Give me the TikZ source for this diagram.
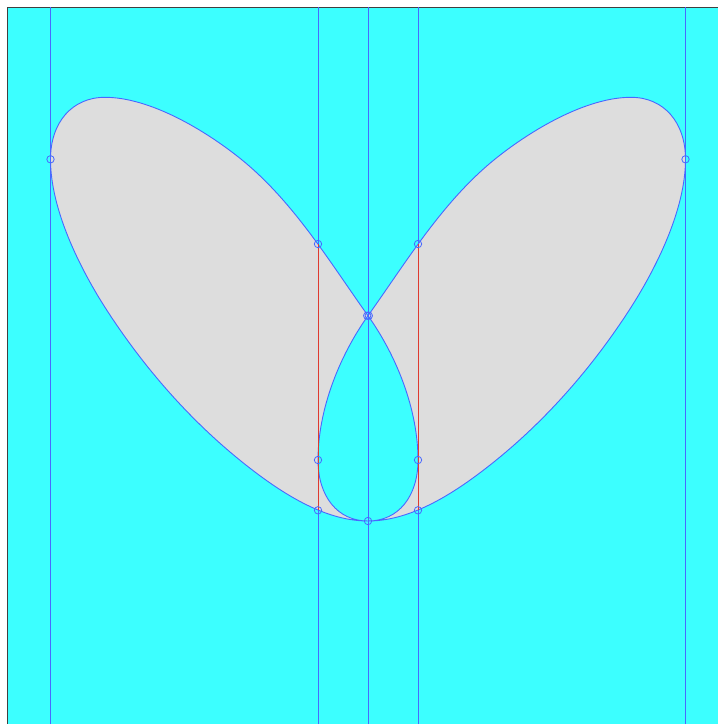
\documentclass[tikz,border=0pt]{standalone}
\usepackage{tikz}
\usetikzlibrary{calc}
\definecolor{bgcyan}{RGB}{60,255,255}
\definecolor{lobegray}{RGB}{221,221,221}
\definecolor{curveblue}{RGB}{72,104,255}
\definecolor{chordred}{RGB}{222,58,48}
\definecolor{framegray}{RGB}{64,64,64}
\tikzset{
  guide/.style={curveblue,line width=0.9pt},
  chord/.style={chordred,line width=0.9pt},
  outline/.style={draw=curveblue,line width=0.9pt,fill=lobegray,even odd rule},
  ring/.pic={\draw[curveblue,line width=0.8pt] (0,0) circle (3.7);},
}

\begin{document}
\begin{tikzpicture}[x=1pt,y=-1pt]
  \useasboundingbox (0,0) rectangle (718,724);
  % ===== background =====
  \fill[bgcyan] (7,7) rectangle (718,724);
  \draw[framegray,line width=1pt] (7,724)--(7,7)--(718,7);

  % ===== marked points =====
  \coordinate (base) at (368,521);      \coordinate (cross) at (368,315.7);
  \coordinate (tipL) at (50.5,159.3);   \coordinate (tipR) at (685.5,159.3);
  \coordinate (upL) at (318,244);       \coordinate (upR) at (418,244);
  \coordinate (midL) at (318,460);      \coordinate (midR) at (418,460);
  \coordinate (lowL) at (318,510.3);    \coordinate (lowR) at (418,510.3);

  % ===== curve: teardrop + two lobes =====
  \path[outline] (base)
    % teardrop, right side
    .. controls (398.3,521) and (418,496.6) .. (midR)
    .. controls (418,410) and (397,356.5) .. (cross)
    % left lobe
    .. controls (328.8,260.6) and (292.8,200.6) .. (240,158.3)
    .. controls (204.9,130.2) and (150,97.3) .. (105,97.3)
    .. controls (72.4,97.3) and (50.5,122.1) .. (tipL)
    .. controls (50.5,209.3) and (79.6,268.1) .. (106.7,310)
    .. controls (146.9,372.1) and (197.5,428.9) .. (256.7,473.3)
    .. controls (288.7,497.3) and (328,521) .. (base)
    % right lobe
    .. controls (408,521) and (447.3,497.3) .. (479.3,473.3)
    .. controls (538.5,428.9) and (589.1,372.1) .. (629.3,310)
    .. controls (656.4,268.1) and (685.5,209.3) .. (tipR)
    .. controls (685.5,122.1) and (663.6,97.3) .. (631,97.3)
    .. controls (586,97.3) and (531.1,130.2) .. (496,158.3)
    .. controls (443.2,200.6) and (407.2,260.6) .. (cross)
    % teardrop, left side
    .. controls (339,356.5) and (318,410) .. (midL)
    .. controls (318,496.6) and (337.7,521) .. (base) -- cycle;

  % ===== vertical guides =====
  \foreach \x in {50.5,318,368,418,685.5} \draw[guide] (\x,7)--(\x,724);
  \draw[chord] (upL)--(lowL);
  \draw[chord] (upR)--(lowR);

  \foreach \p in {tipL,tipR,upL,upR,midL,midR,lowL,lowR,base} \pic at (\p) {ring};
  \pic at ($(cross)+(-0.8,0)$) {ring};
  \pic at ($(cross)+(0.8,0)$) {ring};
\end{tikzpicture}
\end{document}
